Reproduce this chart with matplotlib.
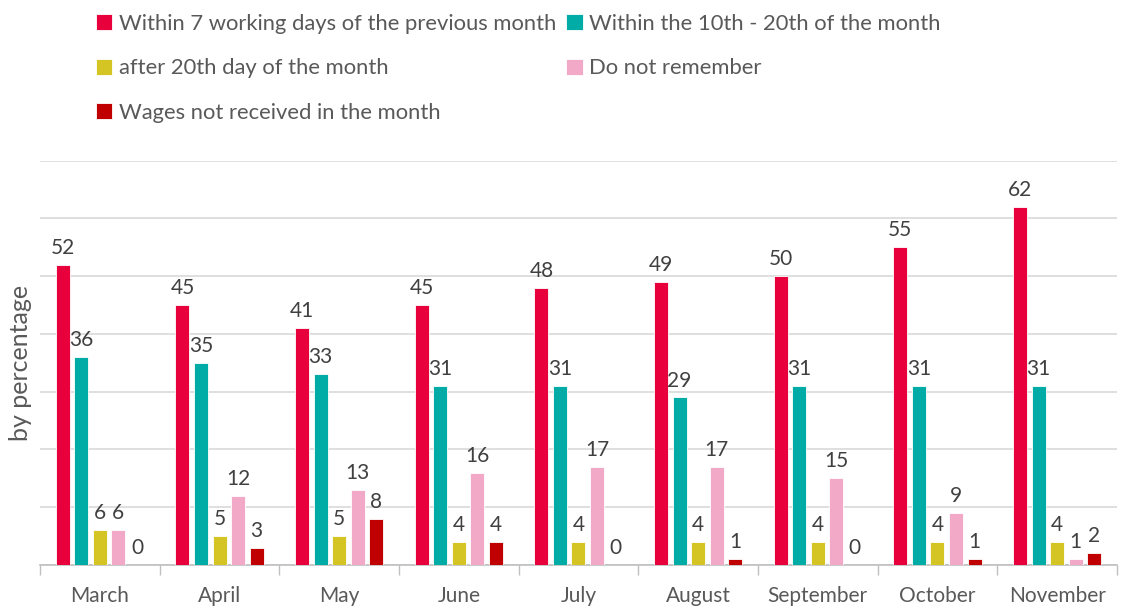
import matplotlib.pyplot as plt
import numpy as np

plt.rcParams['font.family'] = ['Lato', 'DejaVu Sans']

# datos
meses = ['March', 'April', 'May', 'June', 'July', 'August', 'September', 'October', 'November']
series = ['Within 7 working days of the previous month',
          'Within the 10th - 20th of the month',
          'after 20th day of the month',
          'Do not remember',
          'Wages not received in the month']
dentro_7 = [52, 45, 41, 45, 48, 49, 50, 55, 62]
dia_10_20 = [36, 35, 33, 31, 31, 29, 31, 31, 31]
despues_20 = [6, 5, 5, 4, 4, 4, 4, 4, 4]
no_recuerda = [6, 12, 13, 16, 17, 17, 15, 9, 1]
sin_salario = [0, 3, 8, 4, 0, 1, 0, 1, 2]
colores = ['#E8003D', '#00ACA5', '#D4C424', '#F2A9C8', '#C00000']

valores = [dentro_7, dia_10_20, despues_20, no_recuerda, sin_salario]
texto = '#595959'

fig = plt.figure(figsize=(11.21, 6.10), dpi=100)
ax = fig.add_axes([0.0357, 0.0738, 0.9607, 0.6628])

x = np.arange(len(meses))
paso = 0.155
ancho = 0.117
barras = []
for i, (vals, nombre, c) in enumerate(zip(valores, series, colores)):
    b = ax.bar(x + (i - 2) * paso, vals, width=ancho, color=c, label=nombre,
               edgecolor='white', linewidth=0.6, zorder=3)
    ax.bar_label(b, padding=5, fontsize=15, color='#404040')
    barras.append(b)

ax.set_xlim(-0.5, len(meses) - 0.5)
ax.set_ylim(0, 70)
ax.set_yticks(range(0, 71, 10))
ax.yaxis.grid(True, color='#D9D9D9', linewidth=1.2, zorder=0)
ax.tick_params(axis='y', left=False, labelleft=False)
ax.set_xticks(x)
ax.set_xticklabels(meses, fontsize=15, color=texto)
ax.set_xticks(np.arange(-0.5, len(meses)), minor=True)
ax.tick_params(axis='x', which='major', length=0, pad=15)
ax.tick_params(axis='x', which='minor', length=7, color='#BFBFBF', width=1)
for s in ['top', 'right', 'left']:
    ax.spines[s].set_visible(False)
ax.spines['bottom'].set_color('#BFBFBF')
ax.spines['bottom'].set_linewidth(1.2)
ax.set_ylabel('by percentage', fontsize=18, color=texto, labelpad=6)

# leyenda en filas de dos
orden = [0, 2, 4, 1, 3]
fig.legend([barras[i] for i in orden], [series[i] for i in orden],
           loc='upper left', bbox_to_anchor=(0.068, 1.01), ncol=2, frameon=False,
           fontsize=15.8, labelcolor=texto, handlelength=0.75, handleheight=0.75,
           handletextpad=0.3, labelspacing=1.12, columnspacing=0.45)

fig.savefig('out.png', dpi=100)
